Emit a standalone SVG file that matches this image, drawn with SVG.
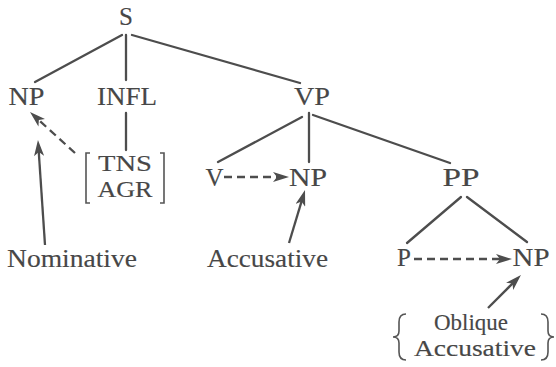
<svg xmlns="http://www.w3.org/2000/svg" width="556" height="367" viewBox="0 0 556 367">
  <style>
    text { font-size: 25px; fill: #474747; stroke: #474747; stroke-width: 0.15; text-anchor: middle; }
    .edge { stroke: #4d4d4d; stroke-width: 2.3; fill: none; stroke-linecap: round; }
    .arrow { stroke: #4d4d4d; stroke-width: 2.3; fill: none; marker-end: url(#head); }
    .dash { stroke-dasharray: 8 5; }
    .fence { stroke: #555; stroke-width: 1.6; fill: none; }
    .small { font-size: 23px; }
  </style>
  <defs>
    <marker id="head" viewBox="0 0 16 10" refX="8" refY="5" markerWidth="17" markerHeight="10" markerUnits="userSpaceOnUse" orient="auto">
      <path d="M0,0 L16,5 L0,10 L4,5 z" fill="#4d4d4d"/>
    </marker>
  </defs>

  <g id="connectors">
    <!-- tree branches -->
    <line class="edge" x1="122" y1="35" x2="35" y2="82"/>
    <line class="edge" x1="126" y1="35" x2="126" y2="80"/>
    <line class="edge" x1="132" y1="35" x2="300" y2="83"/>
    <line class="edge" x1="126" y1="113" x2="126" y2="150"/>
    <line class="edge" x1="302" y1="117" x2="218" y2="162"/>
    <line class="edge" x1="309" y1="113" x2="309" y2="162"/>
    <line class="edge" x1="313" y1="115" x2="450" y2="163"/>
    <line class="edge" x1="461" y1="197" x2="407" y2="243"/>
    <line class="edge" x1="467" y1="197" x2="527" y2="242"/>
    <!-- case assignment arrows -->
    <line class="arrow dash" x1="75" y1="153" x2="35.9" y2="117.4"/>
    <line class="arrow" x1="45" y1="245" x2="38.5" y2="148"/>
    <line class="arrow dash" x1="224" y1="177" x2="281" y2="177"/>
    <line class="arrow" x1="289" y1="243" x2="302.7" y2="197.7"/>
    <line class="arrow dash" x1="414" y1="259" x2="504" y2="259"/>
    <line class="arrow" x1="488" y1="308" x2="515.3" y2="280.7"/>
  </g>

  <g font-family="Liberation Serif, Times New Roman, DejaVu Serif, serif">
    <g id="S"><text x="126" y="25">S</text></g>
    <g id="NP-subject"><text x="26.5" y="105" textLength="36" lengthAdjust="spacingAndGlyphs">NP</text></g>
    <g id="INFL"><text x="127" y="105" textLength="60" lengthAdjust="spacingAndGlyphs">INFL</text></g>
    <g id="VP"><text x="312" y="105" textLength="36" lengthAdjust="spacingAndGlyphs">VP</text></g>
    <g id="TNS-AGR">
      <path class="fence" d="M90,153 H86 V203 H90"/>
      <path class="fence" d="M160,153 H164 V203 H160"/>
      <text class="small" x="125" y="171" textLength="54" lengthAdjust="spacingAndGlyphs">TNS</text>
      <text class="small" x="125" y="196.5" textLength="55" lengthAdjust="spacingAndGlyphs">AGR</text>
    </g>
    <g id="V"><text x="214.5" y="186">V</text></g>
    <g id="NP-object"><text x="308" y="186" textLength="38" lengthAdjust="spacingAndGlyphs">NP</text></g>
    <g id="PP"><text x="461" y="186" textLength="37" lengthAdjust="spacingAndGlyphs">PP</text></g>
    <g id="Nominative"><text x="72" y="267" textLength="130" lengthAdjust="spacingAndGlyphs">Nominative</text></g>
    <g id="Accusative"><text x="267.5" y="267" textLength="121" lengthAdjust="spacingAndGlyphs">Accusative</text></g>
    <g id="P"><text x="404" y="266">P</text></g>
    <g id="NP-oblique"><text x="531" y="266" textLength="37" lengthAdjust="spacingAndGlyphs">NP</text></g>
    <g id="Oblique-Accusative">
      <path class="fence" d="M406,314 Q399,314 399,322 L399,331 Q399,337 393,337 Q399,337 399,343 L399,352 Q399,360 406,360"/>
      <path class="fence" d="M541,314 Q548,314 548,322 L548,331 Q548,337 554,337 Q548,337 548,343 L548,352 Q548,360 541,360"/>
      <text class="small" x="471" y="330" textLength="74" lengthAdjust="spacingAndGlyphs">Oblique</text>
      <text class="small" x="475" y="355.5" textLength="122" lengthAdjust="spacingAndGlyphs">Accusative</text>
    </g>
  </g>
</svg>
